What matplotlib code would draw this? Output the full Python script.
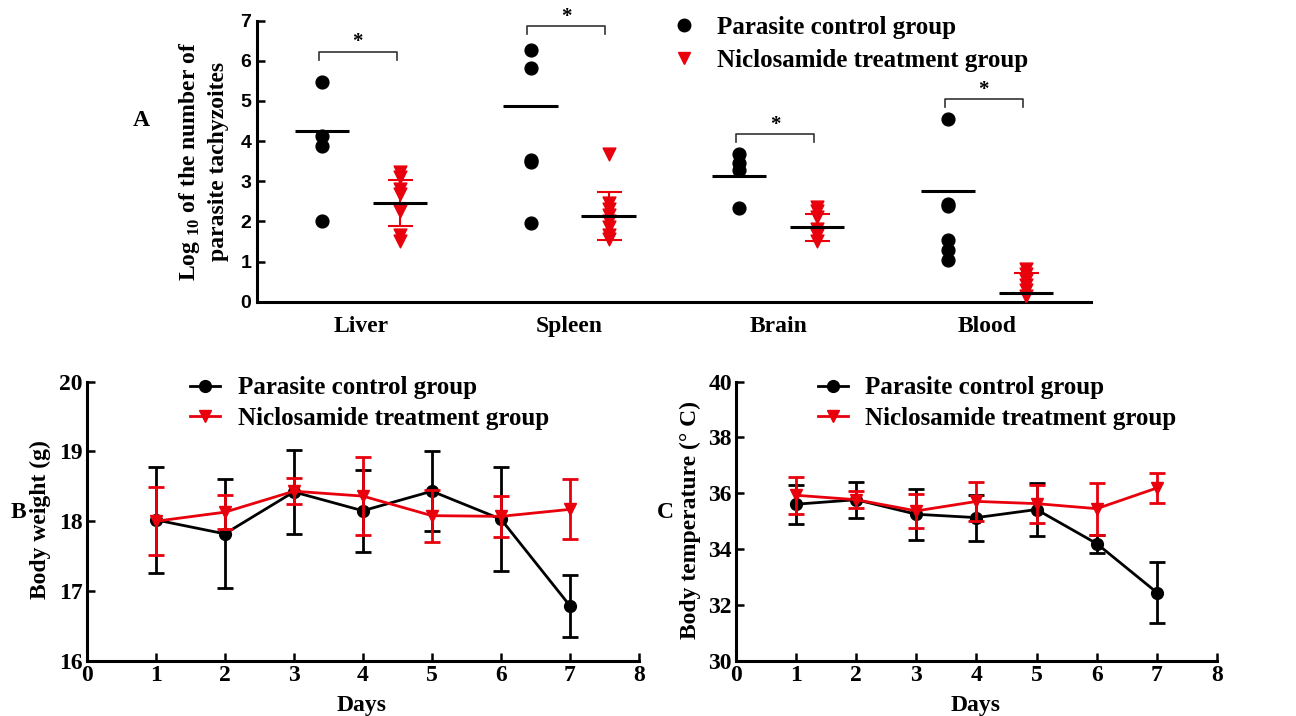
import matplotlib
matplotlib.use("Agg")
import matplotlib.pyplot as plt
from matplotlib.lines import Line2D
import numpy as np

plt.rcParams["font.family"] = ["Liberation Serif", "DejaVu Serif"]
plt.rcParams["font.weight"] = "bold"
plt.rcParams["mathtext.fontset"] = "custom"
plt.rcParams["mathtext.rm"] = "Liberation Serif:bold"
plt.rcParams["mathtext.bf"] = "Liberation Serif:bold"

RED = "#e8000c"
BLACK = "black"

# ---- panel A: tachyzoite load per organ ----
organs = ["Liver", "Spleen", "Brain", "Blood"]
control_pts = [
    [5.47, 4.14, 3.88, 2.02],
    [6.27, 5.82, 3.54, 3.49, 1.96],
    [3.68, 3.46, 3.29, 2.33],
    [4.56, 2.44, 2.38, 1.54, 1.29, 1.03],
]
control_mean = [4.24, 4.88, 3.12, 2.75]
treat_pts = [
    [3.22, 3.10, 2.80, 2.68, 2.25, 1.65, 1.52],
    [3.67, 2.45, 2.30, 2.15, 2.00, 1.85, 1.65, 1.55],
    [2.35, 2.25, 2.10, 1.80, 1.65, 1.50],
    [0.82, 0.70, 0.55, 0.42, 0.30, 0.15],
]
treat_mean = [2.45, 2.13, 1.85, 0.21]
treat_sem = [0.57, 0.60, 0.33, 0.50]
sig_y = [6.23, 6.86, 4.18, 5.04]

# ---- panel B/C: body weight and temperature ----
days = [1, 2, 3, 4, 5, 6, 7]
weight_ctrl = [18.02, 17.82, 18.42, 18.15, 18.43, 18.03, 16.79]
weight_ctrl_err = [0.76, 0.78, 0.60, 0.59, 0.57, 0.74, 0.44]
weight_trt = [18.00, 18.13, 18.43, 18.36, 18.08, 18.07, 18.17]
weight_trt_err = [0.49, 0.24, 0.19, 0.56, 0.37, 0.29, 0.43]
temp_ctrl = [35.61, 35.77, 35.25, 35.13, 35.42, 34.20, 32.45]
temp_ctrl_err = [0.70, 0.64, 0.91, 0.82, 0.94, 0.32, 1.10]
temp_trt = [35.93, 35.77, 35.37, 35.71, 35.63, 35.45, 36.19]
temp_trt_err = [0.66, 0.31, 0.60, 0.69, 0.68, 0.93, 0.52]

W, H = 1296, 716
fig = plt.figure(figsize=(W / 100, H / 100), dpi=100)


def px_axes(left, top, right, bottom):
    return fig.add_axes([left / W, 1 - bottom / H, (right - left) / W, (bottom - top) / H])


def style(ax):
    for s in ("top", "right"):
        ax.spines[s].set_visible(False)
    for s in ("left", "bottom"):
        ax.spines[s].set_linewidth(2.2)
    ax.tick_params(direction="in", length=6, width=1.8)


# panel A
axA = px_axes(256.7, 20.7, 1091, 301.7)
style(axA)
off = 0.187
x = np.arange(len(organs))
for i in range(len(organs)):
    xc = x[i] - off
    xt = x[i] + off
    axA.scatter([xc] * len(control_pts[i]), control_pts[i], s=85, color=BLACK, zorder=3)
    axA.scatter([xt] * len(treat_pts[i]), treat_pts[i], s=85, marker="v", color=RED, zorder=3)
    axA.hlines(control_mean[i], xc - 0.13, xc + 0.13, color=BLACK, lw=2.2, zorder=4)
    axA.errorbar(xt, treat_mean[i], yerr=treat_sem[i], color=RED, capsize=9, capthick=1.5,
                 elinewidth=1.5, zorder=3)
    axA.hlines(treat_mean[i], xt - 0.13, xt + 0.13, color=BLACK, lw=2.2, zorder=5)
    # significance bracket
    xl, xr = xc - 0.015, xt - 0.015
    axA.plot([xl, xl, xr, xr], [sig_y[i] - 0.2, sig_y[i], sig_y[i], sig_y[i] - 0.2],
             color="#333333", lw=1.2)
    axA.text((xl + xr) / 2, sig_y[i] - 0.02, "*", ha="center", va="bottom", fontsize=15)
axA.set_xlim(-0.5, 3.5)
axA.set_ylim(0, 7)
axA.set_yticks(range(0, 8))
axA.set_xticks(x)
axA.set_xticklabels(organs, fontsize=17)
axA.tick_params(axis="x", length=0, pad=10)
axA.tick_params(axis="y", pad=4)
for t in axA.get_yticklabels():
    t.set_fontfamily("Liberation Sans")
    t.set_fontsize(14)
legA = [
    Line2D([], [], ls="none", marker="o", color=BLACK, markersize=9),
    Line2D([], [], ls="none", marker="v", color=RED, markersize=9),
]
axA.legend(legA, ["Parasite control group", "Niclosamide treatment group"], loc="upper left",
           bbox_to_anchor=(0.4704, 1.0985), frameon=False, fontsize=18, handletextpad=0.8,
           labelspacing=0.4, handlelength=1.0)
fig.text(203 / W, 1 - 161 / H, "Log $_{10}$ of the number of\nparasite tachyzoites",
         rotation=90, ha="center", va="center", fontsize=17, linespacing=1.4)
fig.text(141.7 / W, 1 - 120 / H, "A", ha="center", va="center", fontsize=17)


def line_panel(ax, ctrl, ctrl_err, trt, trt_err, anchor_x):
    style(ax)
    ax.errorbar(days, ctrl, yerr=ctrl_err, color=BLACK, marker="o", markersize=8.5, lw=2,
                capsize=6, capthick=2, elinewidth=2, label="Parasite control group", zorder=3)
    ax.errorbar(days, trt, yerr=trt_err, color=RED, marker="v", markersize=9, lw=2,
                capsize=6, capthick=2, elinewidth=2, label="Niclosamide treatment group", zorder=4)
    ax.set_xlim(0, 8)
    ax.set_xticks(range(0, 9))
    ax.tick_params(axis="x", pad=3, labelsize=17)
    ax.tick_params(axis="y", pad=3, labelsize=17)
    handles, labels = ax.get_legend_handles_labels()
    handles = [h[0] for h in handles]
    ax.legend(handles, labels, loc="upper left", bbox_to_anchor=(anchor_x, 1.0986), frameon=False,
              fontsize=18, handletextpad=0.7, labelspacing=0.3, handlelength=1.2)


# panel B
axB = px_axes(86.7, 381.5, 639, 661)
line_panel(axB, weight_ctrl, weight_ctrl_err, weight_trt, weight_trt_err, 0.1465)
axB.set_ylim(16, 20)
axB.set_yticks(range(16, 21))
fig.text(40 / W, 1 - 520 / H, "Body weight (g)", rotation=90, ha="center", va="center", fontsize=17)
fig.text(18 / W, 1 - 512 / H, "B", ha="center", va="center", fontsize=17)
fig.text(362 / W, 1 - 705 / H, "Days", ha="center", va="center", fontsize=17)

# panel C
axC = px_axes(736, 381.5, 1217, 661)
line_panel(axC, temp_ctrl, temp_ctrl_err, temp_trt, temp_trt_err, 0.123)
axC.set_ylim(30, 40)
axC.set_yticks(range(30, 41, 2))
fig.text(690 / W, 1 - 520 / H, "Body temperature (° C)", rotation=90, ha="center", va="center",
         fontsize=17)
fig.text(665 / W, 1 - 512 / H, "C", ha="center", va="center", fontsize=17)
fig.text(976 / W, 1 - 705 / H, "Days", ha="center", va="center", fontsize=17)

fig.savefig("out.png", dpi=100)
